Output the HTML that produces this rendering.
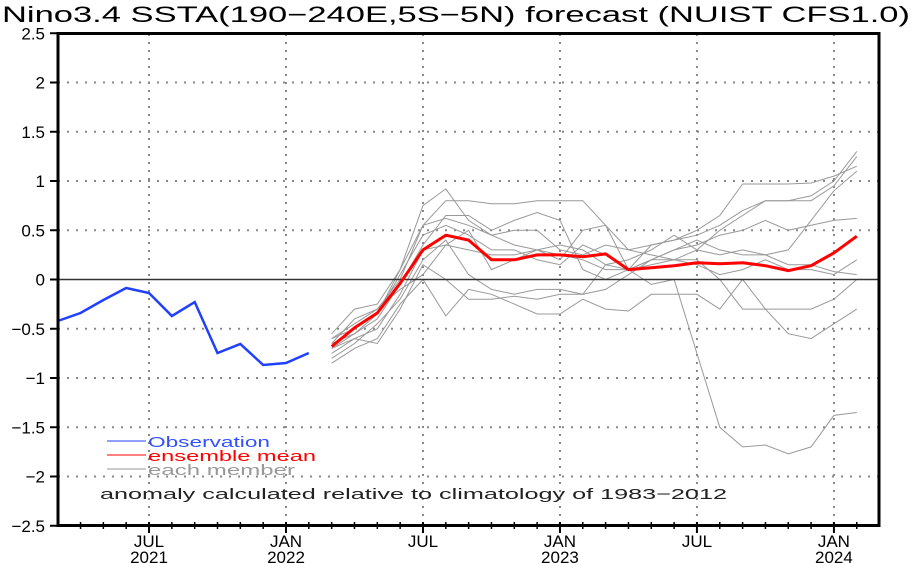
<!DOCTYPE html>
<html><head><meta charset="utf-8"><style>
body{margin:0;background:#fff}
svg{display:block;font-family:"Liberation Sans",sans-serif}
</style></head><body>
<svg id="s" width="915" height="563" viewBox="0 0 915 563" xmlns="http://www.w3.org/2000/svg">
<rect width="915" height="563" fill="#fff"/>
<text x="2" y="22" font-size="22" textLength="908" lengthAdjust="spacingAndGlyphs" fill="#000">Nino3.4 SSTA(190−240E,5S−5N) forecast (NUIST CFS1.0)</text>
<g id="grid"></g>
<g id="mem" fill="none" stroke="#999" stroke-width="1"></g>
<line x1="58" y1="279.5" x2="879" y2="279.5" stroke="#333" stroke-width="1.5"/>
<g id="main" fill="none"></g>
<rect x="58" y="33.5" width="821" height="492" fill="none" stroke="#000" stroke-width="3"/>
<g id="ticks" stroke="#000" stroke-width="2"></g>
<g font-size="17" fill="#000" id="lab"></g>
<g font-size="15">
<line x1="107" y1="441" x2="146" y2="441" stroke="#2040ff"/>
<text x="148" y="447" fill="#3050ff" textLength="122" lengthAdjust="spacingAndGlyphs">Observation</text>
<line x1="107" y1="455" x2="146" y2="455" stroke="#f00"/>
<text x="148" y="461" fill="#f00" textLength="168" lengthAdjust="spacingAndGlyphs">ensemble mean</text>
<line x1="107" y1="469" x2="146" y2="469" stroke="#999"/>
<text x="148" y="475" fill="#999" textLength="147" lengthAdjust="spacingAndGlyphs">each member</text>
<text x="100" y="499" fill="#222" textLength="627" lengthAdjust="spacingAndGlyphs">anomaly calculated relative to climatology of 1983−2012</text>
</g>
</svg>
<script>
var NS="http://www.w3.org/2000/svg";
function el(p,t,a,txt){var e=document.createElementNS(NS,t);for(var k in a)e.setAttribute(k,a[k]);if(txt)e.textContent=txt;document.getElementById(p).appendChild(e);return e;}
var Y=function(v){return 279.5-98.5*v;};
var X=function(m){return 286+22.83*m;}; // m months from Jan 2022
// grid
for(var v=-2;v<=2;v+=0.5){if(v==0)continue;el("grid","line",{x1:58,x2:879,y1:Y(v),y2:Y(v),stroke:"#888","stroke-width":2,"stroke-dasharray":"2,7"});}
[-6,0,6,12,18,24].forEach(function(m){el("grid","line",{x1:X(m),x2:X(m),y1:34,y2:525,stroke:"#888","stroke-width":2,"stroke-dasharray":"2,6"});});
// ticks
for(var v=-2.5;v<=2.5;v+=0.5){el("ticks","line",{x1:50,x2:58,y1:Y(v),y2:Y(v)});
 el("lab","text",{x:45,y:Y(v)+6,"text-anchor":"end"},(v<0?"−":"")+String(Math.abs(Math.round(v*10)/10)));}
for(var m=-10;m<=25;m++){var x=X(m);if(x<58||x>879)continue;var big=(m%6==0);el("ticks","line",{x1:x,x2:x,y1:big?533:529,y2:522,"stroke-width":big?2:1.5});}
[["JUL","2021",-6],["JAN","2022",0],["JUL","",6],["JAN","2023",12],["JUL","",18],["JAN","2024",24]].forEach(function(a){
 el("lab","text",{x:X(a[2]),y:547,"text-anchor":"middle"},a[0]);
 if(a[1])el("lab","text",{x:X(a[2]),y:563,"text-anchor":"middle"},a[1]);});
// members
var M=[
[-0.55,-0.3,-0.25,0.1,0.75,0.92,0.6,0.45,0.5,0.5,0.3,0.25,0.35,0.3,0.35,0.4,0.45,0.55,0.7,0.8,0.8,0.85,1.0,1.3],
[-0.6,-0.45,-0.3,0.0,0.55,0.8,0.8,0.77,0.77,0.8,0.8,0.8,0.55,0.1,0.35,0.4,0.5,0.65,0.97,0.97,0.97,0.98,1.05,1.15],
[-0.7,-0.55,-0.4,-0.05,0.35,0.65,0.65,0.5,0.6,0.68,0.6,0.1,0.0,0.1,0.15,0.2,0.3,0.5,0.65,0.8,0.8,0.8,0.95,1.25],
[-0.75,-0.6,-0.5,-0.15,0.3,0.35,0.3,0.25,0.25,0.3,0.2,0.5,0.55,0.3,0.25,0.2,0.15,0.05,0.1,0.2,0.1,0.1,0.05,0.2],
[-0.65,-0.4,-0.3,-0.1,0.05,0.35,0.5,0.1,0.2,0.3,0.35,0.3,0.15,0.1,0.2,0.3,0.35,0.45,0.5,0.6,0.5,0.55,0.6,0.62],
[-0.8,-0.65,-0.45,-0.2,0.2,0.4,0.05,-0.1,-0.15,-0.1,-0.1,-0.15,0.15,0.2,0.3,0.45,0.3,0.25,0.3,0.25,0.15,0.15,0.08,0.05],
[-0.85,-0.7,-0.6,-0.25,0.0,-0.37,-0.1,-0.15,-0.25,-0.35,-0.35,-0.2,-0.3,-0.32,-0.15,-0.15,-0.15,-0.3,0.0,-0.3,-0.3,-0.3,-0.2,0.0],
[-0.7,-0.6,-0.65,-0.3,0.15,0.0,-0.2,-0.2,-0.17,-0.2,-0.15,-0.15,-0.1,0.05,0.2,0.2,0.2,0.0,-0.3,-0.3,-0.55,-0.6,-0.45,-0.3],
[-0.65,-0.55,-0.35,0.05,0.45,0.55,0.45,0.3,0.3,0.2,0.15,0.35,0.25,0.1,-0.05,0.0,-0.75,-1.5,-1.7,-1.68,-1.77,-1.7,-1.38,-1.35],
[-0.6,-0.5,-0.35,0.1,0.55,0.62,0.55,0.45,0.35,0.3,0.25,0.2,0.1,0.1,0.2,0.3,0.4,0.3,0.25,0.25,0.3,0.6,0.9,1.1]];
function pts(arr,m0){return arr.map(function(v,i){return X(m0+i).toFixed(1)+","+Y(v).toFixed(1);}).join(" ");}
M.forEach(function(a){el("mem","polyline",{points:pts(a,2)});});
var red=[-0.68,-0.49,-0.34,-0.04,0.3,0.45,0.4,0.2,0.2,0.25,0.25,0.23,0.26,0.1,0.12,0.14,0.17,0.16,0.17,0.14,0.09,0.14,0.27,0.44];
el("main","polyline",{points:pts(red,2),stroke:"#f00","stroke-width":3,"stroke-linejoin":"round"});
var by=[321,313,300,288,293,316,302,353,344,365,363,353];
el("main","polyline",{points:by.map(function(y,i){return X(-10+i).toFixed(1)+","+y;}).join(" "),stroke:"#2040ff","stroke-width":2.5});
</script>
</body></html>
